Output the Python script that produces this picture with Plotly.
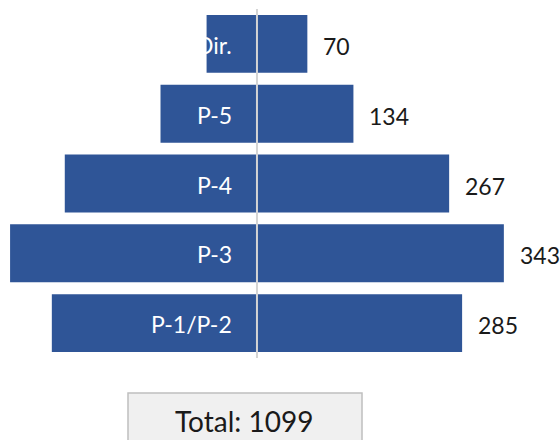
import plotly.graph_objects as go

# Staff counts by grade, top of the pyramid first
grades = ["Dir.", "P-5", "P-4", "P-3", "P-1/P-2"]
staff = [70, 134, 267, 343, 285]
total_label = "Total: {}".format(sum(staff))

BLUE = "#2F5597"
FONT = "Lato"

W, H = 560, 440
M_T, M_B = 9, 82
plot_h = H - M_T - M_B


def paper_y(px):
    # convert a pixel row (from the top of the page) to paper y
    return (H - M_B - px) / plot_h


fig = go.Figure()

# left half of each bar
fig.add_trace(go.Bar(
    y=grades, x=[-v for v in staff], orientation="h",
    marker=dict(color=BLUE, line=dict(width=0)),
    hoverinfo="skip", showlegend=False,
))

# right half of each bar
fig.add_trace(go.Bar(
    y=grades, x=staff, orientation="h",
    marker=dict(color=BLUE, line=dict(width=0)),
    hoverinfo="skip", showlegend=False,
))

for g, v in zip(grades, staff):
    # grade name inside the left half, right-aligned near the axis
    fig.add_annotation(
        x=0, y=g, text=g, showarrow=False,
        xanchor="right", yanchor="middle", xshift=-23, yshift=-1,
        font=dict(family=FONT, size=23, color="white"),
    )
    # value beyond the right half
    fig.add_annotation(
        x=v, y=g, text=str(v), showarrow=False,
        xanchor="left", yanchor="middle", xshift=14, yshift=-2,
        font=dict(family=FONT, size=23, color="#1a1a1a"),
    )

# centre axis line
fig.add_shape(type="line", xref="x", yref="paper", x0=0, x1=0, y0=0, y1=1,
              line=dict(color="#d4d4d4", width=2), layer="above")

# total box under the pyramid
fig.add_shape(type="rect", xref="paper", yref="paper",
              x0=128 / W, x1=362 / W, y0=paper_y(450), y1=paper_y(393),
              fillcolor="#f0f0f0", line=dict(color="#bfbfbf", width=1.5))
fig.add_annotation(xref="paper", yref="paper", x=244 / W, y=paper_y(421),
                   xanchor="center", yanchor="middle",
                   text=total_label, showarrow=False,
                   font=dict(family=FONT, size=28, color="#1a1a1a"))

fig.update_layout(
    width=W, height=H,
    margin=dict(l=0, r=0, t=M_T, b=M_B),
    paper_bgcolor="white", plot_bgcolor="white",
    barmode="overlay", bargap=0.17,
    xaxis=dict(range=[-357, 421], visible=False, fixedrange=True),
    yaxis=dict(categoryorder="array", categoryarray=grades[::-1],
               visible=False, fixedrange=True),
)

fig.write_html("out.html")
